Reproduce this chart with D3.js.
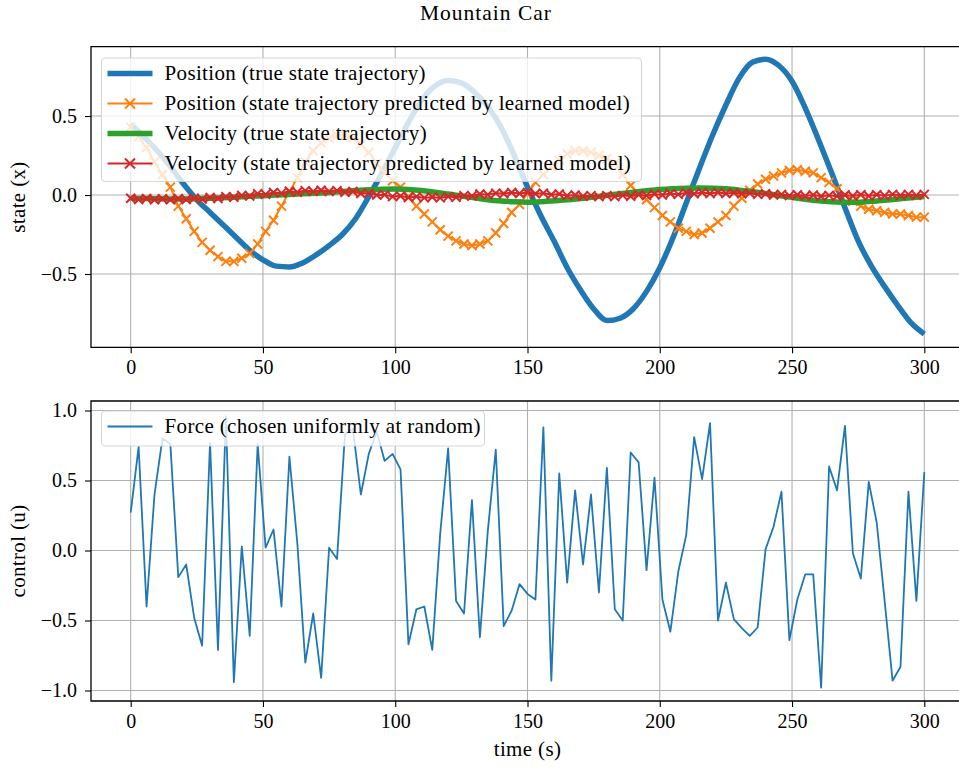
<!DOCTYPE html>
<html>
<head>
<meta charset="utf-8">
<script src="https://cdn.jsdelivr.net/npm/d3@7"></script>
<style>
  html, body { margin: 0; padding: 0; background: #ffffff; }
  svg { display: block; font-family: "Liberation Serif", "DejaVu Serif", serif; }
</style>
</head>
<body>
<script>
// ---- Data -------------------------------------------------------------
// Time axis ticks (seconds)
const timeTicks = [0, 50, 100, 150, 200, 250, 300];
const stateTicks = [-0.5, 0.0, 0.5];
const stateTickLabels = ["\u22120.5", "0.0", "0.5"];
const controlTicks = [-1.0, -0.5, 0.0, 0.5, 1.0];
const controlTickLabels = ["\u22121.0", "\u22120.5", "0.0", "0.5", "1.0"];

// True trajectory, sampled every 5 s
const trueStep = 5;
const positionTrue = [
  0.45, 0.37, 0.28, 0.18, 0.07, -0.03, -0.11, -0.19, -0.27, -0.35,
  -0.41, -0.45, -0.455, -0.43, -0.38, -0.32, -0.25, -0.15, -0.01, 0.14,
  0.30, 0.46, 0.60, 0.69, 0.725, 0.71, 0.65, 0.56, 0.43, 0.25,
  0.05, -0.13, -0.29, -0.46, -0.60, -0.72, -0.795, -0.78, -0.72, -0.61,
  -0.46, -0.27, -0.05, 0.17, 0.38, 0.57, 0.74, 0.84, 0.86, 0.82,
  0.72, 0.55, 0.35, 0.14, -0.08, -0.29, -0.45, -0.58, -0.70, -0.81,
  -0.88
];
const velocityTrue = [
  -0.020, -0.022, -0.024, -0.025, -0.025, -0.023, -0.020, -0.017, -0.013, -0.008,
  -0.004, 0.000, 0.004, 0.008, 0.012, 0.016, 0.022, 0.028, 0.033, 0.037,
  0.038, 0.035, 0.028, 0.018, 0.006, -0.006, -0.018, -0.030, -0.038, -0.043,
  -0.045, -0.042, -0.036, -0.030, -0.022, -0.012, -0.002, 0.008, 0.018, 0.027,
  0.035, 0.040, 0.043, 0.044, 0.043, 0.039, 0.031, 0.021, 0.010, -0.003,
  -0.015, -0.027, -0.037, -0.043, -0.046, -0.045, -0.040, -0.033, -0.025, -0.017,
  -0.010
];

// Model predictions and control inputs, sampled every 3 s
const sampleStep = 3;
const positionPred = [
  0.43, 0.37, 0.30, 0.21, 0.13, 0.05, -0.07, -0.15, -0.23, -0.30,
  -0.35, -0.39, -0.42, -0.42, -0.40, -0.37, -0.31, -0.23, -0.16, -0.07,
  0.02, 0.11, 0.21, 0.28, 0.33, 0.36, 0.38, 0.38, 0.36, 0.32,
  0.27, 0.20, 0.14, 0.09, 0.05, -0.01, -0.07, -0.12, -0.17, -0.22,
  -0.26, -0.29, -0.31, -0.32, -0.31, -0.29, -0.24, -0.18, -0.11, -0.06,
  0.01, 0.08, 0.13, 0.18, 0.22, 0.26, 0.28, 0.28, 0.27, 0.25,
  0.23, 0.20, 0.13, 0.06, 0.01, -0.03, -0.08, -0.13, -0.17, -0.21,
  -0.23, -0.25, -0.24, -0.21, -0.17, -0.13, -0.07, -0.02, 0.03, 0.07,
  0.10, 0.12, 0.14, 0.155, 0.16, 0.15, 0.14, 0.11, 0.08, 0.04,
  0.00, -0.04, -0.07, -0.09, -0.10, -0.11, -0.12, -0.12, -0.13, -0.14,
  -0.14
];
const velocityPred = [
  -0.020, -0.028, -0.022, -0.030, -0.024, -0.030, -0.022, -0.028, -0.020, -0.026,
  -0.016, -0.022, -0.010, -0.014, -0.002, -0.006, 0.008, 0.004, 0.016, 0.012,
  0.024, 0.018, 0.028, 0.022, 0.030, 0.022, 0.028, 0.018, 0.022, 0.010,
  0.012, 0.000, 0.002, -0.010, -0.006, -0.016, -0.010, -0.018, -0.012, -0.018,
  -0.010, -0.014, -0.004, -0.006, 0.006, 0.002, 0.012, 0.008, 0.016, 0.010,
  0.016, 0.008, 0.012, 0.002, 0.006, -0.004, 0.000, -0.008, -0.004, -0.010,
  -0.004, -0.010, -0.002, -0.008, 0.002, -0.004, 0.006, 0.000, 0.010, 0.004,
  0.014, 0.008, 0.016, 0.010, 0.016, 0.010, 0.014, 0.008, 0.012, 0.004,
  0.008, 0.000, 0.004, -0.004, 0.002, -0.006, 0.000, -0.008, -0.002, -0.008,
  0.000, -0.006, 0.002, -0.006, 0.002, -0.004, 0.004, -0.002, 0.004, -0.002,
  0.004
];
const force = [
  0.27, 0.74, -0.40, 0.40, 0.80, 0.76, -0.19, -0.10, -0.48, -0.68,
  0.77, -0.71, 0.96, -0.94, 0.03, -0.61, 0.76, 0.02, 0.15, -0.40,
  0.67, 0.05, -0.80, -0.45, -0.91, 0.02, -0.06, 0.83, 0.87, 0.40,
  0.69, 0.85, 0.64, 0.69, 0.58, -0.67, -0.42, -0.40, -0.71, 0.12,
  0.73, -0.36, -0.45, 0.36, -0.62, 0.14, 0.72, -0.54, -0.43, -0.24,
  -0.31, -0.35, 0.88, -0.93, 0.55, -0.23, 0.43, -0.10, 0.40, -0.30,
  0.59, -0.42, -0.50, 0.70, 0.63, -0.14, 0.52, -0.35, -0.58, -0.15,
  0.11, 0.81, 0.51, 0.91, -0.50, -0.23, -0.49, -0.555, -0.61, -0.55,
  0.01, 0.17, 0.42, -0.64, -0.35, -0.17, -0.17, -0.98, 0.60, 0.43,
  0.89, -0.02, -0.20, 0.49, 0.20, -0.36, -0.93, -0.83, 0.42, -0.36,
  0.56
];

const topLegend = [
  "Position (true state trajectory)",
  "Position (state trajectory predicted by learned model)",
  "Velocity (true state trajectory)",
  "Velocity (state trajectory predicted by learned model)"
];
const bottomLegend = ["Force (chosen uniformly at random)"];

// ---- Layout & styles --------------------------------------------------
const W = 959, H = 768;
const C = { blue: "#1f77b4", orange: "#ff7f0e", green: "#2ca02c", red: "#d62728" };
const FONT = 20;          // tick labels
const LFONT = 21;         // legend and axis titles
const LSPACE = "0.35px";
const left = 91, right = 964;
const topBox = { y0: 46.7, y1: 347.3 };
const botBox = { y0: 401, y1: 701 };

const svg = d3.select("body").append("svg").attr("width", W).attr("height", H);

const x = d3.scaleLinear().domain([-15, 315]).range([left, right]);
const yTop = d3.scaleLinear().domain([-0.964, 0.939]).range([topBox.y1, topBox.y0]);
const yBot = d3.scaleLinear().domain([-1.075, 1.068]).range([botBox.y1, botBox.y0]);

const toPts = (arr, step) => arr.map((v, i) => ({ t: i * step, v }));

function clip(id, box) {
  svg.append("clipPath").attr("id", id).append("rect")
    .attr("x", left).attr("y", box.y0).attr("width", right - left).attr("height", box.y1 - box.y0);
}
clip("clipTop", topBox);
clip("clipBot", botBox);

function drawAxes(box, y, yTicks, yLabels) {
  const g = svg.append("g");
  // grid
  g.selectAll(".gx").data(timeTicks).join("line")
    .attr("x1", d => x(d)).attr("x2", d => x(d))
    .attr("y1", box.y0).attr("y2", box.y1)
    .attr("stroke", "#b0b0b0").attr("stroke-width", 1.1);
  g.selectAll(".gy").data(yTicks).join("line")
    .attr("x1", left).attr("x2", right)
    .attr("y1", d => y(d)).attr("y2", d => y(d))
    .attr("stroke", "#b0b0b0").attr("stroke-width", 1.1);

  const xAxis = d3.axisBottom(x).tickValues(timeTicks).tickSize(6).tickPadding(7)
    .tickFormat(d3.format("d"));
  const ax = g.append("g").attr("transform", `translate(0,${box.y1})`).call(xAxis);
  const yAxis = d3.axisLeft(y).tickValues(yTicks).tickSize(6).tickPadding(8)
    .tickFormat((d, i) => yLabels[i]);
  const ay = g.append("g").attr("transform", `translate(${left},0)`).call(yAxis);
  [ax, ay].forEach(a => {
    a.select(".domain").remove();
    a.selectAll("line").attr("stroke", "#000").attr("stroke-width", 1.1);
    a.selectAll("text").attr("fill", "#000").style("font-size", FONT + "px")
      .style("font-family", "'Liberation Serif', serif");
  });
  return g;
}

function drawSpines(box) {
  const g = svg.append("g").attr("fill", "none").attr("stroke", "#000").attr("stroke-width", 1.3);
  g.append("path").attr("d", `M${right},${box.y0}H${left}V${box.y1}H${right}`);
}

drawAxes(topBox, yTop, stateTicks, stateTickLabels);
drawAxes(botBox, yBot, controlTicks, controlTickLabels);

// ---- Top panel series --------------------------------------------------
const lineTop = d3.line().x(d => x(d.t)).y(d => yTop(d.v));
const lineTopSmooth = d3.line().x(d => x(d.t)).y(d => yTop(d.v)).curve(d3.curveMonotoneX);
const gTop = svg.append("g").attr("clip-path", "url(#clipTop)");

function xMarker(g, pts, color, size) {
  const h = size / 2;
  g.selectAll(null).data(pts).join("path")
    .attr("d", d => `M${x(d.t) - h},${yTop(d.v) - h}L${x(d.t) + h},${yTop(d.v) + h}M${x(d.t) - h},${yTop(d.v) + h}L${x(d.t) + h},${yTop(d.v) - h}`)
    .attr("stroke", color).attr("stroke-width", 2).attr("fill", "none");
}

const posTruePts = toPts(positionTrue, trueStep);
const velTruePts = toPts(velocityTrue, trueStep);
const posPredPts = toPts(positionPred, sampleStep);
const velPredPts = toPts(velocityPred, sampleStep);

gTop.append("path").datum(posTruePts).attr("d", lineTopSmooth)
  .attr("fill", "none").attr("stroke", C.blue).attr("stroke-width", 5.5).attr("stroke-linejoin", "round");
const gOr = gTop.append("g");
gOr.append("path").datum(posPredPts).attr("d", lineTop)
  .attr("fill", "none").attr("stroke", C.orange).attr("stroke-width", 2);
xMarker(gOr, posPredPts, C.orange, 9);
gTop.append("path").datum(velTruePts).attr("d", lineTopSmooth)
  .attr("fill", "none").attr("stroke", C.green).attr("stroke-width", 5.5).attr("stroke-linejoin", "round");
const gRed = gTop.append("g");
gRed.append("path").datum(velPredPts).attr("d", lineTop)
  .attr("fill", "none").attr("stroke", C.red).attr("stroke-width", 2);
xMarker(gRed, velPredPts, C.red, 9);

// ---- Bottom panel series -----------------------------------------------
const lineBot = d3.line().x(d => x(d.t)).y(d => yBot(d.v));
svg.append("g").attr("clip-path", "url(#clipBot)")
  .append("path").datum(toPts(force, sampleStep)).attr("d", lineBot)
  .attr("fill", "none").attr("stroke", C.blue).attr("stroke-width", 1.8).attr("stroke-linejoin", "round");

drawSpines(topBox);
drawSpines(botBox);

// ---- Legends -----------------------------------------------------------
function legend(x0, y0, w, h, rowH, items) {
  const g = svg.append("g");
  g.append("rect").attr("x", x0).attr("y", y0).attr("width", w).attr("height", h)
    .attr("rx", 4).attr("fill", "#fff").attr("fill-opacity", 0.8)
    .attr("stroke", "#cccccc").attr("stroke-opacity", 0.8).attr("stroke-width", 1.1);
  items.forEach((it, i) => {
    const cy = y0 + 15.5 + rowH * i;
    g.append("line").attr("x1", x0 + 6).attr("x2", x0 + 51).attr("y1", cy).attr("y2", cy)
      .attr("stroke", it.color).attr("stroke-width", it.width);
    if (it.marker) {
      const cx = x0 + 28.5, hh = 5;
      g.append("path").attr("d", `M${cx - hh},${cy - hh}L${cx + hh},${cy + hh}M${cx - hh},${cy + hh}L${cx + hh},${cy - hh}`)
        .attr("stroke", it.color).attr("stroke-width", 2);
    }
    g.append("text").attr("x", x0 + 63).attr("y", cy).attr("dy", "0.33em")
      .style("font-size", LFONT + "px").style("letter-spacing", LSPACE)
      .attr("fill", "#000").text(it.label);
  });
}

legend(101.5, 58, 540, 123.5, 30, [
  { label: topLegend[0], color: C.blue, width: 5.5 },
  { label: topLegend[1], color: C.orange, width: 2, marker: true },
  { label: topLegend[2], color: C.green, width: 5.5 },
  { label: topLegend[3], color: C.red, width: 2, marker: true }
]);
legend(101.5, 411, 383, 35, 30, [
  { label: bottomLegend[0], color: C.blue, width: 1.8 }
]);

// ---- Titles and axis labels ------------------------------------------
svg.append("text").attr("x", 486).attr("y", 19.5).attr("text-anchor", "middle")
  .style("font-size", "21.5px").style("letter-spacing", "1px").text("Mountain Car");
svg.append("text").attr("transform", `translate(25,${(topBox.y0 + topBox.y1) / 2}) rotate(-90)`)
  .attr("text-anchor", "middle").style("font-size", LFONT + "px").style("letter-spacing", LSPACE)
  .text("state (x)");
svg.append("text").attr("transform", `translate(25,${(botBox.y0 + botBox.y1) / 2}) rotate(-90)`)
  .attr("text-anchor", "middle").style("font-size", LFONT + "px").style("letter-spacing", LSPACE)
  .text("control (u)");
svg.append("text").attr("x", (left + right) / 2).attr("y", 756).attr("text-anchor", "middle")
  .style("font-size", LFONT + "px").style("letter-spacing", LSPACE).text("time (s)");
</script>
</body>
</html>
